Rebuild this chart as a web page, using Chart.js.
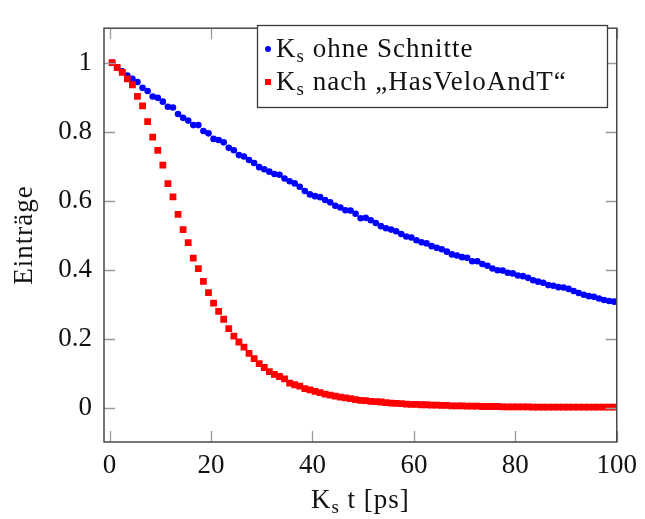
<!DOCTYPE html>
<html>
<head>
<meta charset="utf-8">
<script src="https://cdn.jsdelivr.net/npm/chart.js@4.4.1/dist/chart.umd.min.js"></script>
<style>
  body { margin: 0; background: #fff; }
  #wrap { width: 645px; height: 519px; }
</style>
</head>
<body>
<div id="wrap"><canvas id="chart" width="645" height="519"></canvas></div>
<script>
// Bin-Mitten (ps)
const zeiten = [
  0.5, 1.5, 2.5, 3.5, 4.5, 5.5, 6.5, 7.5, 8.5, 9.5,
  10.5, 11.5, 12.5, 13.5, 14.5, 15.5, 16.5, 17.5, 18.5, 19.5,
  20.5, 21.5, 22.5, 23.5, 24.5, 25.5, 26.5, 27.5, 28.5, 29.5,
  30.5, 31.5, 32.5, 33.5, 34.5, 35.5, 36.5, 37.5, 38.5, 39.5,
  40.5, 41.5, 42.5, 43.5, 44.5, 45.5, 46.5, 47.5, 48.5, 49.5,
  50.5, 51.5, 52.5, 53.5, 54.5, 55.5, 56.5, 57.5, 58.5, 59.5,
  60.5, 61.5, 62.5, 63.5, 64.5, 65.5, 66.5, 67.5, 68.5, 69.5,
  70.5, 71.5, 72.5, 73.5, 74.5, 75.5, 76.5, 77.5, 78.5, 79.5,
  80.5, 81.5, 82.5, 83.5, 84.5, 85.5, 86.5, 87.5, 88.5, 89.5,
  90.5, 91.5, 92.5, 93.5, 94.5, 95.5, 96.5, 97.5, 98.5, 99.5
];

// Ks ohne Schnitte
const ohneSchnitte = [
  1.000, 0.985, 0.975, 0.963, 0.953, 0.944, 0.927, 0.918, 0.902, 0.898,
  0.887, 0.872, 0.870, 0.851, 0.840, 0.832, 0.819, 0.819, 0.802, 0.795,
  0.779, 0.776, 0.769, 0.753, 0.746, 0.732, 0.728, 0.718, 0.709, 0.697,
  0.691, 0.684, 0.677, 0.675, 0.664, 0.656, 0.650, 0.640, 0.628, 0.618,
  0.613, 0.610, 0.602, 0.595, 0.585, 0.580, 0.572, 0.571, 0.562, 0.549,
  0.550, 0.543, 0.535, 0.526, 0.520, 0.516, 0.511, 0.503, 0.496, 0.493,
  0.485, 0.479, 0.476, 0.468, 0.463, 0.459, 0.452, 0.444, 0.441, 0.436,
  0.434, 0.424, 0.424, 0.416, 0.411, 0.403, 0.398, 0.397, 0.391, 0.389,
  0.383, 0.381, 0.376, 0.369, 0.365, 0.362, 0.355, 0.353, 0.349, 0.348,
  0.344, 0.338, 0.332, 0.327, 0.323, 0.321, 0.316, 0.312, 0.309, 0.307
];

// Ks nach "HasVeloAndT"
const nachHasVelo = [
  1.000, 0.986, 0.972, 0.953, 0.936, 0.902, 0.875, 0.829, 0.784, 0.746,
  0.703, 0.649, 0.611, 0.560, 0.516, 0.478, 0.433, 0.403, 0.366, 0.333,
  0.303, 0.279, 0.256, 0.229, 0.207, 0.190, 0.175, 0.157, 0.142, 0.127,
  0.116, 0.104, 0.096, 0.090, 0.083, 0.071, 0.066, 0.062, 0.055, 0.051,
  0.047, 0.043, 0.039, 0.036, 0.033, 0.030, 0.028, 0.026, 0.023, 0.021,
  0.020, 0.018, 0.017, 0.016, 0.014, 0.013, 0.012, 0.011, 0.010, 0.009,
  0.009, 0.008, 0.008, 0.007, 0.007, 0.006, 0.006, 0.005, 0.005, 0.005,
  0.004, 0.004, 0.004, 0.003, 0.003, 0.003, 0.003, 0.002, 0.002, 0.002,
  0.002, 0.002, 0.002, 0.001, 0.001, 0.001, 0.001, 0.001, 0.001, 0.001,
  0.001, 0.001, 0.001, 0.001, 0.001, 0.001, 0.001, 0.001, 0.001, 0.001
];

const serienNamen = ['ohne Schnitte', 'nach „HasVeloAndT“'];
const xTicks = [0, 20, 40, 60, 80, 100];
const xTickLabels = ['0', '20', '40', '60', '80', '100'];
const yTicks = [0, 0.2, 0.4, 0.6, 0.8, 1];
const yTickLabels = ['0', '0.2', '0.4', '0.6', '0.8', '1'];
const xTitel = ' t [ps]';
const yTitel = 'Einträge';

const FONT = '"Liberation Serif", "DejaVu Serif", serif';
const FS = 27;
const SPACING = '1px';

// "K" mit tiefgestelltem "s", danach Resttext
function zeichneKs(ctx, x, y, rest, align) {
  ctx.letterSpacing = SPACING;
  ctx.font = FS + 'px ' + FONT;
  const wK = ctx.measureText('K').width;
  ctx.font = Math.round(FS * 0.7) + 'px ' + FONT;
  const wS = ctx.measureText('s').width;
  ctx.font = FS + 'px ' + FONT;
  const wR = ctx.measureText(rest).width;
  let x0 = x;
  if (align === 'center') x0 = x - (wK + wS + wR) / 2;
  ctx.textAlign = 'left';
  ctx.textBaseline = 'alphabetic';
  ctx.fillText('K', x0, y);
  ctx.font = Math.round(FS * 0.7) + 'px ' + FONT;
  ctx.fillText('s', x0 + wK, y + 5);
  ctx.font = FS + 'px ' + FONT;
  ctx.fillText(rest, x0 + wK + wS, y);
  ctx.letterSpacing = '0px';
}

const rahmenPlugin = {
  id: 'rahmen',
  afterDraw(chart) {
    const ctx = chart.ctx;
    const a = chart.chartArea;
    const xs = chart.scales.x, ys = chart.scales.y;
    ctx.save();

    // Ticks innen, alle vier Seiten
    ctx.strokeStyle = '#9a9a9a';
    ctx.lineWidth = 1.3;
    ctx.beginPath();
    xTicks.forEach(v => {
      const px = Math.round(xs.getPixelForValue(v)) + 0.5;
      ctx.moveTo(px, a.bottom); ctx.lineTo(px, a.bottom - 11);
      ctx.moveTo(px, a.top); ctx.lineTo(px, a.top + 11);
    });
    yTicks.forEach(v => {
      const py = Math.round(ys.getPixelForValue(v)) + 0.5;
      ctx.moveTo(a.left, py); ctx.lineTo(a.left + 11, py);
      ctx.moveTo(a.right, py); ctx.lineTo(a.right - 11, py);
    });
    ctx.stroke();

    // Rahmen
    ctx.strokeStyle = '#4a4a4a';
    ctx.lineWidth = 1.5;
    ctx.strokeRect(a.left, a.top, a.right - a.left, a.bottom - a.top);

    // Legende
    const lx = 257, ly = 25, lw = 350, lh = 82;
    ctx.fillStyle = '#fff';
    ctx.fillRect(lx, ly, lw, lh);
    ctx.strokeStyle = '#3a3a3a';
    ctx.lineWidth = 1.3;
    ctx.strokeRect(lx + 0.5, ly + 0.5, lw, lh);
    chart.data.datasets.forEach((ds, i) => {
      const cy = ly + 24 + i * 33;
      ctx.fillStyle = ds.backgroundColor;
      if (ds.pointStyle === 'rect') {
        ctx.fillRect(lx + 8, cy - 3, 6, 6);
      } else {
        ctx.beginPath();
        ctx.arc(lx + 11, cy, 3, 0, Math.PI * 2);
        ctx.fill();
      }
      ctx.fillStyle = '#111';
      zeichneKs(ctx, lx + 19, cy + 8, ' ' + serienNamen[i], 'left');
    });

    // Achsentitel
    ctx.fillStyle = '#111';
    zeichneKs(ctx, (a.left + a.right) / 2, 508, xTitel, 'center');
    ctx.save();
    ctx.translate(32, (a.top + a.bottom) / 2);
    ctx.rotate(-Math.PI / 2);
    ctx.font = FS + 'px ' + FONT;
    ctx.letterSpacing = SPACING;
    ctx.textAlign = 'center';
    ctx.textBaseline = 'alphabetic';
    ctx.fillText(yTitel, 0, 0);
    ctx.restore();

    ctx.restore();
  }
};

const ctx = document.getElementById('chart').getContext('2d');
new Chart(ctx, {
  type: 'scatter',
  data: {
    datasets: [
      {
        label: 'Ks ' + serienNamen[0],
        data: zeiten.map((t, i) => ({ x: t, y: ohneSchnitte[i] })),
        backgroundColor: '#0000ff',
        borderWidth: 0,
        pointStyle: 'circle',
        pointRadius: 3.3,
        order: 1
      },
      {
        label: 'Ks ' + serienNamen[1],
        data: zeiten.map((t, i) => ({ x: t, y: nachHasVelo[i] })),
        backgroundColor: '#ff0000',
        borderWidth: 0,
        pointStyle: 'rect',
        pointRadius: 4.8,
        order: 0
      }
    ]
  },
  options: {
    responsive: false,
    animation: false,
    layout: { padding: { top: 12, right: 24, left: 0, bottom: 0 } },
    plugins: {
      legend: { display: false },
      tooltip: { enabled: false }
    },
    scales: {
      x: {
        type: 'linear',
        min: -1.1,
        max: 100,
        grid: { display: false, drawTicks: false, tickLength: 0 },
        border: { display: false },
        afterBuildTicks: s => { s.ticks = xTicks.map(v => ({ value: v })); },
        afterFit: s => { s.height = 77; },
        ticks: {
          color: '#111',
          padding: 8,
          maxRotation: 0,
          font: { family: FONT, size: FS },
          callback: (v) => xTickLabels[xTicks.indexOf(v)]
        }
      },
      y: {
        type: 'linear',
        min: -0.1,
        max: 1.1,
        grid: { display: false, drawTicks: false, tickLength: 0 },
        border: { display: false },
        afterBuildTicks: s => { s.ticks = yTicks.map(v => ({ value: v })); },
        afterFit: s => { s.width = 104; },
        ticks: {
          color: '#111',
          padding: 12,
          font: { family: FONT, size: FS },
          callback: (v) => yTickLabels[yTicks.indexOf(v)]
        }
      }
    }
  },
  plugins: [rahmenPlugin]
});
</script>
</body>
</html>
